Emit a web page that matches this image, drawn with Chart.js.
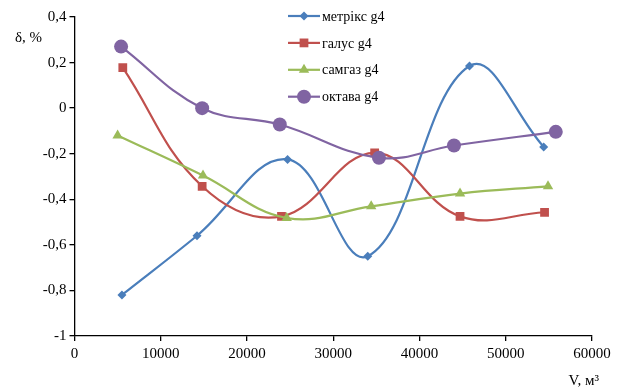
<!DOCTYPE html>
<html>
<head>
<meta charset="utf-8">
<script src="https://cdn.jsdelivr.net/npm/chart.js@4/dist/chart.umd.min.js"></script>
<style>
  html, body { margin: 0; padding: 0; background: #fff; }
  #wrap { position: relative; width: 619px; height: 390px; }
</style>
</head>
<body>
<div id="wrap"><canvas id="chart"></canvas></div>
<script>
// ─── Data ────────────────────────────────────────────────────────────────────
const seriesNames = ['метрікс g4', 'галус g4', 'самгаз g4', 'октава g4'];

const metrixV  = [5500, 14200, 24700, 34000, 45800, 54400];
const metrixD  = [-0.82, -0.56, -0.225, -0.65, 0.185, -0.17];

const galusV   = [5600, 14800, 24000, 34800, 44700, 54500];
const galusD   = [0.178, -0.343, -0.475, -0.196, -0.475, -0.457];

const samgazV  = [5000, 14900, 24600, 34400, 44700, 54900];
const samgazD  = [-0.12, -0.296, -0.482, -0.431, -0.375, -0.343];

const oktavaV  = [5400, 14800, 23800, 35300, 44000, 55800];
const oktavaD  = [0.27, 0.0, -0.072, -0.218, -0.164, -0.104];

const xTicks = [0, 10000, 20000, 30000, 40000, 50000, 60000];
const yTicks = [0.4, 0.2, 0, -0.2, -0.4, -0.6, -0.8, -1];

const FONT = "'Liberation Serif', 'Times New Roman', serif";

function pts(xs, ys) {
  return xs.map((x, i) => ({ x, y: ys[i] }));
}

function fmtDelta(v) {
  const r = Math.round(v * 10) / 10;
  return String(r).replace('.', ',');
}

const styles = [
  { color: '#4a7ebb', pointStyle: 'rectRot', radius: 4.5 },
  { color: '#c0504d', pointStyle: 'rect',    radius: 6.2 },
  { color: '#9bbb59', pointStyle: 'triangle', radius: 6 },
  { color: '#8064a2', pointStyle: 'circle',  radius: 7 },
];

const rawSeries = [
  pts(metrixV, metrixD),
  pts(galusV, galusD),
  pts(samgazV, samgazD),
  pts(oktavaV, oktavaD),
];

const datasets = rawSeries.map((data, i) => ({
  label: seriesNames[i],
  data,
  showLine: true,
  borderColor: styles[i].color,
  backgroundColor: styles[i].color,
  borderWidth: 2.2,
  pointStyle: styles[i].pointStyle,
  pointRadius: styles[i].radius,
  pointBorderWidth: 0,
  pointBackgroundColor: styles[i].color,
  tension: 0.4,
  order: 3 - i,
}));

// ─── Legend + axis captions drawn on the canvas ──────────────────────────────
const captions = {
  id: 'captions',
  afterDraw(chart) {
    const ctx = chart.ctx;
    ctx.save();
    ctx.fillStyle = '#000';
    ctx.font = '15px ' + FONT;
    ctx.textBaseline = 'middle';
    ctx.textAlign = 'left';
    ctx.fillText('δ, %', 15, 38);
    ctx.textAlign = 'right';
    ctx.fillText('V, м³', 599, 381);

    // legend
    ctx.font = '14px ' + FONT;
    ctx.textAlign = 'left';
    const x0 = 288, x1 = 320, y0 = 16, step = 26.9;
    datasets.forEach((ds, i) => {
      const y = y0 + i * step;
      ctx.strokeStyle = ds.borderColor;
      ctx.lineWidth = 2.2;
      ctx.beginPath();
      ctx.moveTo(x0, y);
      ctx.lineTo(x1, y);
      ctx.stroke();
      ctx.fillStyle = ds.borderColor;
      Chart.helpers.drawPoint(ctx, {
        pointStyle: ds.pointStyle,
        radius: ds.pointRadius,
        rotation: 0,
        borderWidth: 0,
      }, (x0 + x1) / 2, y);
      ctx.fillStyle = '#000';
      ctx.fillText(ds.label, x1 + 2, y + 1);
    });
    ctx.restore();
  }
};

const ctx = document.getElementById('chart').getContext('2d');
new Chart(ctx, {
  type: 'scatter',
  data: { datasets },
  options: {
    responsive: true,
    maintainAspectRatio: false,
    animation: false,
    layout: { padding: { left: 0, top: 17, right: 27, bottom: 0 } },
    plugins: {
      legend: { display: false },
      tooltip: { enabled: false },
    },
    scales: {
      x: {
        type: 'linear',
        min: 0,
        max: 60000,
        afterBuildTicks: s => { s.ticks = xTicks.map(v => ({ value: v })); },
        afterFit: s => { s.height = 54; },
        border: { display: true, color: '#000', width: 1.3 },
        grid: { drawOnChartArea: false, drawTicks: true, tickLength: 5, color: '#000', lineWidth: 1.3 },
        ticks: {
          color: '#000',
          padding: 4,
          maxRotation: 0,
          font: { size: 15, family: FONT },
          callback: v => String(v),
        },
      },
      y: {
        type: 'linear',
        min: -1,
        max: 0.4,
        afterBuildTicks: s => { s.ticks = yTicks.map(v => ({ value: v })); },
        afterFit: s => { s.width = 74.5; },
        border: { display: true, color: '#000', width: 1.3 },
        grid: { drawOnChartArea: false, drawTicks: true, tickLength: 5, color: '#000', lineWidth: 1.3 },
        ticks: {
          color: '#000',
          padding: 3,
          font: { size: 15, family: FONT },
          callback: v => fmtDelta(v),
        },
      },
    },
  },
  plugins: [captions],
});
</script>
</body>
</html>
